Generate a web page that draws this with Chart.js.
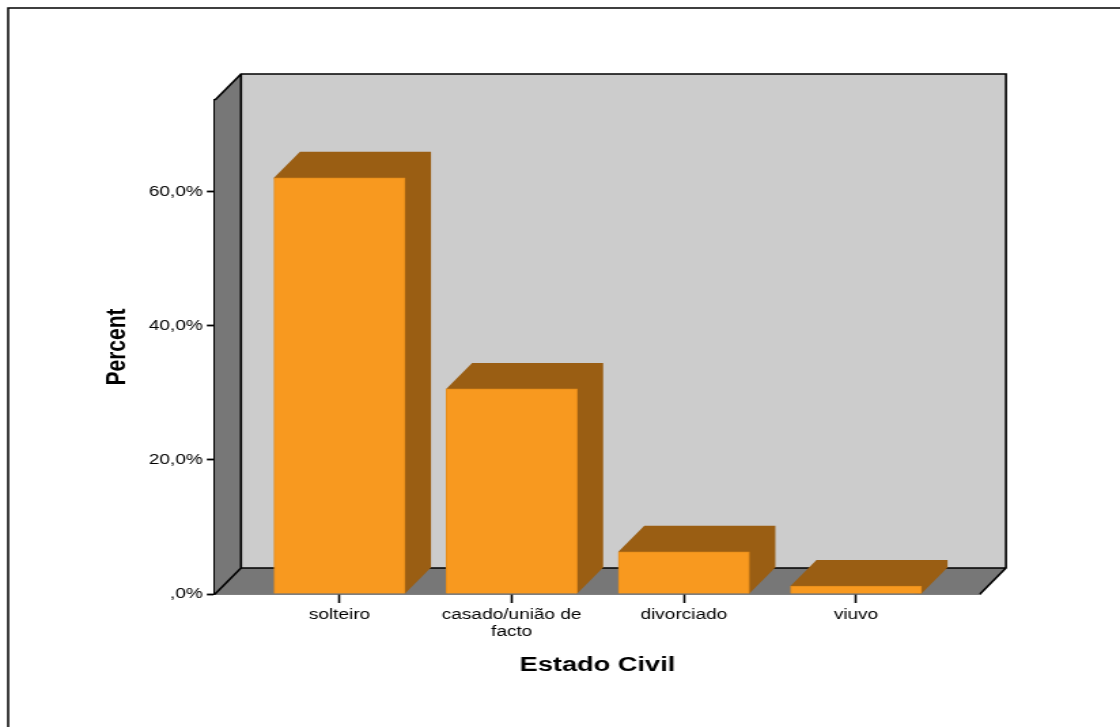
<!DOCTYPE html>
<html>
<head>
<meta charset="utf-8">
<title>Estado Civil</title>
<script src="https://cdn.jsdelivr.net/npm/chart.js@4/dist/chart.umd.min.js"></script>
<style>
  html, body { margin: 0; padding: 0; background: #fff; overflow: hidden; }
  /* the chart is drawn narrow and stretched sideways, so text comes out wide */
  #wrap { width: 824px; height: 727px; transform: scaleX(1.3592); transform-origin: 0 0; }
</style>
</head>
<body>
<div id="wrap"><canvas id="chart"></canvas></div>
<script>
const categories = ['solteiro', ['casado/união de', 'facto'], 'divorciado', 'viuvo'];
const percents = [62.1, 30.6, 6.3, 1.2];
const yTickValues = [0, 20, 40, 60];
const yTickLabels = [',0%', '20,0%', '40,0%', '60,0%'];

const DEPTH_X = 19.1;  // depth offset, canvas units (stretched later)
const DEPTH_Y = 26;

// walls, floor and the dark top/side faces of each bar
const box3d = {
    id: 'box3d',
    beforeDraw(chart) {
        const ctx = chart.ctx;
        ctx.save();
        ctx.fillStyle = '#fff';
        ctx.fillRect(0, 0, chart.width, chart.height);
        ctx.strokeStyle = '#000';
        ctx.lineWidth = 1.5;
        ctx.strokeRect(6, 8, chart.width + 20, chart.height + 20);
        ctx.restore();
    },
    beforeDatasetsDraw(chart) {
        const ctx = chart.ctx;
        const { left, right, top, bottom } = chart.chartArea;
        const dx = DEPTH_X, dy = DEPTH_Y;

        ctx.save();
        // back wall
        ctx.fillStyle = '#cccccc';
        ctx.fillRect(left + dx, top - dy, right - left, bottom - top);

        // left wall
        ctx.fillStyle = '#777777';
        ctx.beginPath();
        ctx.moveTo(left, top);
        ctx.lineTo(left + dx, top - dy);
        ctx.lineTo(left + dx, bottom - dy);
        ctx.lineTo(left, bottom);
        ctx.closePath();
        ctx.fill();

        // floor
        ctx.beginPath();
        ctx.moveTo(left, bottom);
        ctx.lineTo(left + dx, bottom - dy);
        ctx.lineTo(right + dx, bottom - dy);
        ctx.lineTo(right, bottom);
        ctx.closePath();
        ctx.fill();

        // outlines
        ctx.strokeStyle = '#000';
        ctx.lineWidth = 1.6;
        ctx.beginPath();
        ctx.moveTo(left, top);
        ctx.lineTo(left + dx, top - dy);
        ctx.lineTo(right + dx, top - dy);
        ctx.lineTo(right + dx, bottom - dy);
        ctx.lineTo(right, bottom);
        ctx.moveTo(left + dx, top - dy);
        ctx.lineTo(left + dx, bottom - dy);
        ctx.lineTo(right + dx, bottom - dy);
        ctx.moveTo(left + dx, bottom - dy);
        ctx.lineTo(left, bottom);
        ctx.stroke();

        // bar tops and sides
        ctx.fillStyle = '#9a5e13';
        chart.getDatasetMeta(0).data.forEach(bar => {
            const x0 = bar.x - bar.width / 2;
            const x1 = bar.x + bar.width / 2;
            const y = bar.y, base = bar.base;
            ctx.beginPath();
            ctx.moveTo(x0, y);
            ctx.lineTo(x0 + dx, y - dy);
            ctx.lineTo(x1 + dx, y - dy);
            ctx.lineTo(x1 + dx, base - dy);
            ctx.lineTo(x1, base);
            ctx.closePath();
            ctx.fill();
        });
        ctx.restore();
    }
};

new Chart(document.getElementById('chart'), {
    type: 'bar',
    data: {
        datasets: [{
            data: percents.map((v, i) => ({ x: i, y: v })),
            backgroundColor: '#f8991f',
            borderColor: '#e58c1b',
            borderWidth: 1,
            barThickness: 96.4
        }]
    },
    options: {
        responsive: true,
        maintainAspectRatio: false,
        animation: false,
        layout: { padding: { left: 0, top: 100, right: 103, bottom: 0 } },
        plugins: { legend: { display: false }, tooltip: { enabled: false } },
        scales: {
            x: {
                type: 'linear',
                offset: false,
                min: -0.723,
                max: 3.72,
                afterFit: s => { s.height = 133; },
                afterBuildTicks: s => { s.ticks = categories.map((c, i) => ({ value: i })); },
                border: { display: true, color: '#000', width: 1.6 },
                grid: { offset: false, drawOnChartArea: false, drawTicks: true, tickLength: 9, tickColor: '#000', tickWidth: 1.6 },
                ticks: {
                    autoSkip: false,
                    maxRotation: 0,
                    padding: 3,
                    color: '#000',
                    font: { family: "'Liberation Sans', Arial, sans-serif", size: 14, lineHeight: 1.25 },
                    callback: v => categories[v]
                },
                title: {
                    display: true,
                    text: 'Estado Civil',
                    color: '#000',
                    font: { family: "'Liberation Sans', Arial, sans-serif", size: 20, weight: 'bold', lineHeight: 1.2 },
                    padding: { top: 0, bottom: 50 }
                }
            },
            y: {
                min: 0,
                max: 73.7,
                afterFit: s => { s.width = 158.2; },
                afterBuildTicks: s => { s.ticks = yTickValues.map(v => ({ value: v })); },
                border: { display: true, color: '#000', width: 1.6 },
                grid: { drawOnChartArea: false, drawTicks: true, tickLength: 6, tickColor: '#000', tickWidth: 1.8 },
                ticks: {
                    padding: 3,
                    color: '#000',
                    font: { family: "'Liberation Sans', Arial, sans-serif", size: 14 },
                    callback: (v, i) => yTickLabels[i]
                },
                title: {
                    display: true,
                    text: 'Percent',
                    color: '#000',
                    font: { family: "'Liberation Sans', Arial, sans-serif", size: 21, weight: 'bold', lineHeight: 1.2 },
                    padding: { top: 74, bottom: 0 }
                }
            }
        }
    },
    plugins: [box3d]
});
</script>
</body>
</html>
